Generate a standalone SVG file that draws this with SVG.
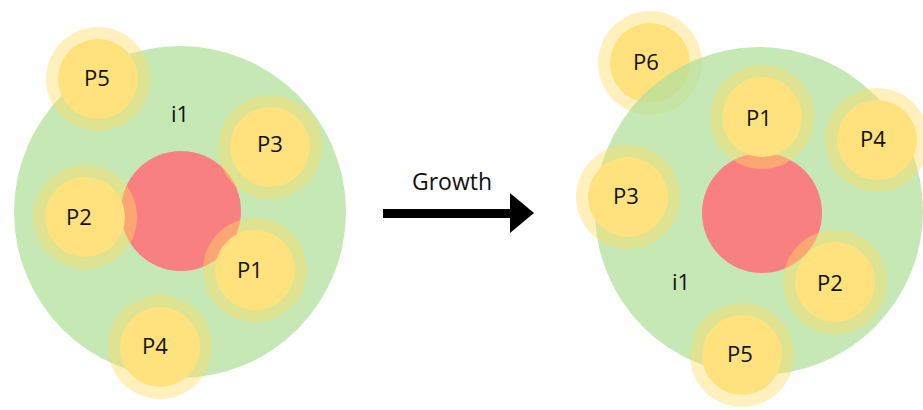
<svg xmlns="http://www.w3.org/2000/svg" width="923" height="410" viewBox="0 0 923 410">
<style>
.bg{fill:#ffffff}
.cell{fill:#b3e09c;fill-opacity:0.75}
.core{fill:#f98080}
.halo{fill:#ffdb62;fill-opacity:0.42}
.p{fill:#ffe27e}
text{font-family:"Open Sans","DejaVu Sans",sans-serif;fill:#111;text-anchor:middle;font-size:22px}
</style>
<rect class="bg" width="923" height="410"/>
<!-- left -->
<g id="left-cell"><circle class="cell" cx="180" cy="212" r="166"/><text x="180" y="122">i1</text></g>
<g id="left-core"><circle class="core" cx="181" cy="211" r="60"/></g>
<g id="left-P5"><circle class="halo" cx="98" cy="79" r="52"/><circle class="p" cx="98" cy="79" r="40"/><text x="97" y="86">P5</text></g>
<g id="left-P3"><circle class="halo" cx="270" cy="147" r="52"/><circle class="p" cx="270" cy="147" r="40"/><text x="270" y="152">P3</text></g>
<g id="left-P2"><circle class="halo" cx="85" cy="217" r="52"/><circle class="p" cx="85" cy="217" r="40"/><text x="79" y="225">P2</text></g>
<g id="left-P1"><circle class="halo" cx="255" cy="270" r="52"/><circle class="p" cx="255" cy="270" r="40"/><text x="250" y="278">P1</text></g>
<g id="left-P4"><circle class="halo" cx="160" cy="347" r="52"/><circle class="p" cx="160" cy="347" r="40"/><text x="155" y="354">P4</text></g>
<!-- connectors -->
<g id="connectors">
<text x="452" y="190" style="font-size:23px">Growth</text>
<rect x="383" y="209" width="129" height="9" fill="#000"/>
<polygon points="510,193 534,213 510,233" fill="#000"/>
</g>
<!-- right -->
<g id="right-P6"><circle class="halo" cx="650" cy="63" r="52"/><circle class="p" cx="650" cy="63" r="40"/><text x="646" y="70">P6</text></g>
<g id="right-cell"><circle class="cell" cx="759" cy="211" r="164"/><text x="681" y="290">i1</text></g>
<g id="right-core"><circle class="core" cx="762" cy="213" r="60"/></g>
<g id="right-P1"><circle class="halo" cx="762" cy="117" r="52"/><circle class="p" cx="762" cy="117" r="40"/><text x="759" y="126">P1</text></g>
<g id="right-P4"><circle class="halo" cx="877" cy="140" r="52"/><circle class="p" cx="877" cy="140" r="40"/><text x="873" y="147">P4</text></g>
<g id="right-P3"><circle class="halo" cx="628" cy="197" r="52"/><circle class="p" cx="628" cy="197" r="40"/><text x="626" y="204">P3</text></g>
<g id="right-P2"><circle class="halo" cx="835" cy="282" r="52"/><circle class="p" cx="835" cy="282" r="40"/><text x="830" y="291">P2</text></g>
<g id="right-P5"><circle class="halo" cx="742" cy="355" r="52"/><circle class="p" cx="742" cy="355" r="40"/><text x="740" y="362">P5</text></g>
</svg>
